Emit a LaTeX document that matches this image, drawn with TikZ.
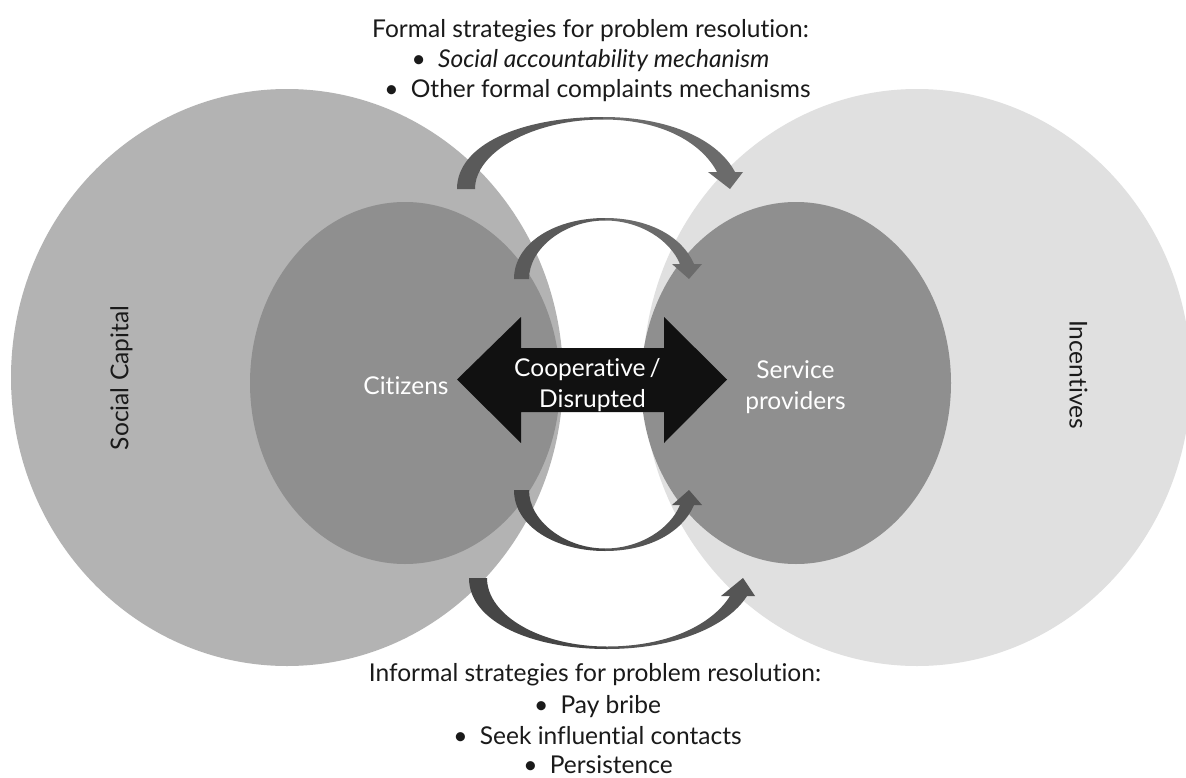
\documentclass[tikz,border=0pt]{standalone}
\usepackage{fontspec}
\setmainfont{Lato}[Ligatures=NoCommon]
\definecolor{bigLcol}{HTML}{B3B3B3}
\definecolor{bigRcol}{HTML}{E0E0E0}
\definecolor{innercol}{HTML}{8F8F8F}
\definecolor{arrTopA}{HTML}{5A5A5A}
\definecolor{arrTopB}{HTML}{6B6B6B}
\definecolor{arrBotA}{HTML}{464646}
\definecolor{arrBotB}{HTML}{555555}
\definecolor{darkarrow}{HTML}{111111}
\definecolor{txtcol}{HTML}{1A1A1A}
\begin{document}
\begin{tikzpicture}[x=0.75pt,y=-0.75pt,
  lbl/.style={font=\fontsize{18.4pt}{23pt}\selectfont, inner sep=0pt, anchor=base, text=txtcol},
  wlbl/.style={lbl, text=white},
  biglbl/.style={font=\fontsize{18.4pt}{23pt}\selectfont, inner sep=0pt, text=txtcol}]
\useasboundingbox (0,0) rectangle (1186,778);
\clip (0,0) rectangle (1186,778);
\fill[white] (0,0) rectangle (1186,778);
% big circles
\fill[bigLcol] (287,377.5) ellipse [x radius=276, y radius=288.5];
\fill[bigRcol] (917,377.5) ellipse [x radius=274, y radius=288.5];
% inner ellipses
\fill[innercol] (405,383) ellipse [x radius=155, y radius=181];
\fill[innercol] (796,383) ellipse [x radius=155, y radius=181];
% top outer curved arrow
\fill[arrTopA] (457,189) .. controls (457,145) and (520,117) .. (603,117)
  -- (603,119.5) .. controls (533,119.5) and (475,152) .. (475,189) -- cycle;
\fill[arrTopB] (603,117) .. controls (670,117) and (718,140) .. (735,172)
  -- (743,172) -- (730,189) -- (708,172) -- (717,172)
  .. controls (703,145) and (665,119.5) .. (603,119.5) -- cycle;
% top inner curved arrow
\fill[arrTopA] (514,279) .. controls (514,243) and (555,218) .. (605,218)
  -- (605,220.5) .. controls (565,220.5) and (529,248) .. (529,279) -- cycle;
\fill[arrTopB] (605,218) .. controls (648,218) and (682,236) .. (694,264)
  -- (702,264) -- (689,279) -- (672,264) -- (680,264)
  .. controls (670,240) and (640,220.5) .. (605,220.5) -- cycle;
% bottom inner curved arrow
\fill[arrBotA] (514,490) .. controls (514,526) and (555,551) .. (605,551)
  -- (605,548.5) .. controls (565,548.5) and (529,521) .. (529,490) -- cycle;
\fill[arrBotB] (605,551) .. controls (648,551) and (682,533) .. (694,505)
  -- (702,505) -- (689,490) -- (672,505) -- (680,505)
  .. controls (670,529) and (640,548.5) .. (605,548.5) -- cycle;
% bottom outer curved arrow
\fill[arrBotA] (469,578) .. controls (469,622) and (532,649) .. (607,649)
  -- (607,646.5) .. controls (540,646.5) and (487,615) .. (487,578) -- cycle;
\fill[arrBotB] (607,649) .. controls (676,649) and (728,626) .. (747,596)
  -- (755,596) -- (743,578) -- (721,596) -- (730,596)
  .. controls (714,622) and (672,646.5) .. (607,646.5) -- cycle;
% double arrow
\fill[darkarrow] (457,379.5) -- (521,317) -- (521,348) -- (664,348) -- (664,317)
  -- (727,379.5) -- (664,443) -- (664,412) -- (521,412) -- (521,443) -- cycle;
% labels
\node[wlbl] (coop1) at (587.5,376) {Cooperative\,/};
\node[wlbl] (coop2) at (592.5,407) {Disrupted};
\node[wlbl] (citizens) at (406,394) {Citizens};
\node[wlbl] (service) at (795.5,378) {Service};
\node[wlbl] (providers) at (795.5,409) {providers};
\node[biglbl, rotate=90] (social) at (121.5,378) {Social Capital};
\node[biglbl, rotate=-90] (incent) at (1078.5,374.5) {Incentives};
% top text
\node[lbl] (f1) at (590.5,37) {Formal strategies for problem resolution:};
\node[lbl] (f2) at (590.5,67) {•\hspace{0.5em}\textit{Social accountability mechanism}};
\node[lbl] (f3) at (597.5,97) {•\hspace{0.5em}Other formal complaints mechanisms};
% bottom text
\node[lbl] (i1) at (595,681) {Informal strategies for problem resolution:};
\node[lbl] (i2) at (597.5,713) {•\hspace{0.5em}Pay bribe};
\node[lbl] (i3) at (597.5,744) {•\hspace{0.5em}Seek influential contacts};
\node[lbl] (i4) at (598,773) {•\hspace{0.5em}Persistence};
\end{tikzpicture}
\end{document}
